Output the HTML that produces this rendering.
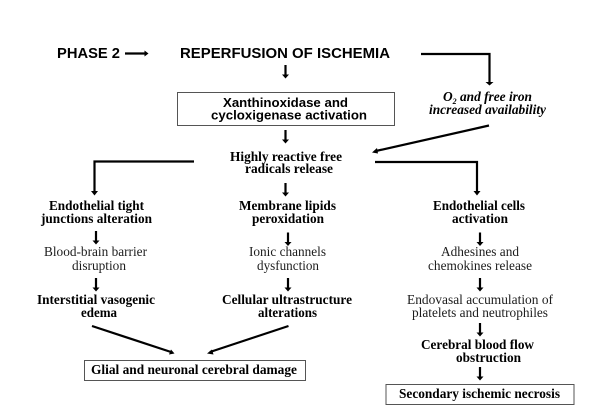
<!DOCTYPE html>
<html><head><meta charset="utf-8"><style>
html,body{margin:0;padding:0;background:#fff;width:600px;height:418px;overflow:hidden}
svg{display:block;filter:blur(0.3px)}
text{fill:#000;font-family:"Liberation Serif",serif;font-size:13.5px}
.b{font-weight:bold}
.s{font-family:"Liberation Sans",sans-serif;font-weight:bold;font-size:12.8px}
.h{font-size:14.5px}
.i{font-style:italic;font-weight:bold}
.n{fill:#1c1c1c;font-size:13.5px}
.l{stroke:#000;stroke-width:2.2;fill:none}
.a{fill:#000;stroke:none}
</style></head><body>
<svg width="600" height="418" viewBox="0 0 600 418" xmlns="http://www.w3.org/2000/svg">
<defs>
<g id="d"><path class="l" d="M0 0V10"/><path class="a" d="M-3.500 9.500H3.500L0 13.500Z"/></g>
</defs>
<text class="s h" x="57" y="58" textLength="63" lengthAdjust="spacingAndGlyphs">PHASE 2</text>
<text class="s h" x="180" y="58" textLength="210" lengthAdjust="spacingAndGlyphs">REPERFUSION OF ISCHEMIA</text>
<path class="l" d="M125 53.500H145"/><path class="a" d="M144.500 50.500L148.500 53.500L144.500 56.500Z"/>
<use href="#d" x="285.500" y="65"/>
<rect x="177.500" y="92.500" width="217" height="33" fill="#fff" stroke="#555" stroke-width="1"/>
<text class="s" x="223" y="107" textLength="125" lengthAdjust="spacingAndGlyphs">Xanthinoxidase and</text>
<text class="s" x="211" y="119.500" textLength="156" lengthAdjust="spacingAndGlyphs">cycloxigenase activation</text>
<path class="l" d="M421 54H489.500V83"/><path class="a" d="M485.500 82H493.500L489.500 85.500Z"/>
<text class="i" x="443" y="101" textLength="89" lengthAdjust="spacingAndGlyphs">O<tspan font-size="8" dy="3">2</tspan><tspan dy="-3"> and free iron</tspan></text>
<text class="i" x="429" y="114" textLength="117" lengthAdjust="spacingAndGlyphs">increased availability</text>
<use href="#d" x="285.500" y="130"/>
<path class="l" d="M489 125.500L376 151"/><path class="a" d="M372 152.500L377 148L378 153.500Z"/>
<text class="b" x="230" y="161" textLength="112" lengthAdjust="spacingAndGlyphs">Highly reactive free</text>
<text class="b" x="245" y="173" textLength="88" lengthAdjust="spacingAndGlyphs">radicals release</text>
<path class="l" d="M194 161.500H94.500V192"/><path class="a" d="M91 191H98L94.500 195.500Z"/>
<path class="l" d="M375 162H477V192"/><path class="a" d="M473.500 191H480.500L477 195.500Z"/>
<use href="#d" x="285.500" y="183"/>

<text class="b" x="49" y="210" textLength="95" lengthAdjust="spacingAndGlyphs">Endothelial tight</text>
<text class="b" x="41" y="223" textLength="111" lengthAdjust="spacingAndGlyphs">junctions alteration</text>
<use href="#d" x="96" y="231"/>
<text class="n" x="44" y="256" textLength="103" lengthAdjust="spacingAndGlyphs">Blood-brain barrier</text>
<text class="n" x="72" y="270" textLength="54" lengthAdjust="spacingAndGlyphs">disruption</text>
<use href="#d" x="96" y="278"/>
<text class="b" x="37" y="304" textLength="118" lengthAdjust="spacingAndGlyphs">Interstitial vasogenic</text>
<text class="b" x="81" y="317" textLength="36" lengthAdjust="spacingAndGlyphs">edema</text>

<text class="b" x="239" y="210" textLength="97" lengthAdjust="spacingAndGlyphs">Membrane lipids</text>
<text class="b" x="252" y="223" textLength="72" lengthAdjust="spacingAndGlyphs">peroxidation</text>
<use href="#d" x="288" y="232.500"/>
<text class="n" x="249" y="256" textLength="77" lengthAdjust="spacingAndGlyphs">Ionic channels</text>
<text class="n" x="257" y="270" textLength="62" lengthAdjust="spacingAndGlyphs">dysfunction</text>
<use href="#d" x="288" y="278"/>
<text class="b" x="222" y="304" textLength="130" lengthAdjust="spacingAndGlyphs">Cellular ultrastructure</text>
<text class="b" x="258" y="317" textLength="59" lengthAdjust="spacingAndGlyphs">alterations</text>

<path class="l" d="M92 326L171 352"/><path class="a" d="M174.500 353.500L169 354.500L171 349.500Z"/>
<path class="l" d="M288.500 326L210 352"/><path class="a" d="M207 353.500L212 349.500L213.500 354.500Z"/>
<rect x="84.500" y="360.500" width="221" height="20" fill="#fff" stroke="#555" stroke-width="1"/>
<text class="b" x="91" y="374" textLength="206" lengthAdjust="spacingAndGlyphs">Glial and neuronal cerebral damage</text>

<text class="b" x="433" y="210" textLength="92" lengthAdjust="spacingAndGlyphs">Endothelial cells</text>
<text class="b" x="452" y="223" textLength="56" lengthAdjust="spacingAndGlyphs">activation</text>
<use href="#d" x="480" y="232.500"/>
<text class="n" x="441" y="256" textLength="78" lengthAdjust="spacingAndGlyphs">Adhesines and</text>
<text class="n" x="428" y="270" textLength="104" lengthAdjust="spacingAndGlyphs">chemokines release</text>
<use href="#d" x="480" y="278"/>
<text class="n" x="407" y="304" textLength="146" lengthAdjust="spacingAndGlyphs">Endovasal accumulation of</text>
<text class="n" x="412" y="317" textLength="136" lengthAdjust="spacingAndGlyphs">platelets and neutrophiles</text>
<use href="#d" x="480" y="323"/>
<text class="b" x="421" y="349" textLength="113" lengthAdjust="spacingAndGlyphs">Cerebral blood flow</text>
<text class="b" x="456" y="362" textLength="65" lengthAdjust="spacingAndGlyphs">obstruction</text>
<use href="#d" x="480" y="367"/>
<rect x="386" y="384.500" width="188" height="20" fill="#fff" stroke="#555" stroke-width="1"/>
<text class="b" x="399" y="398" textLength="161" lengthAdjust="spacingAndGlyphs">Secondary ischemic necrosis</text>
</svg>
</body></html>
